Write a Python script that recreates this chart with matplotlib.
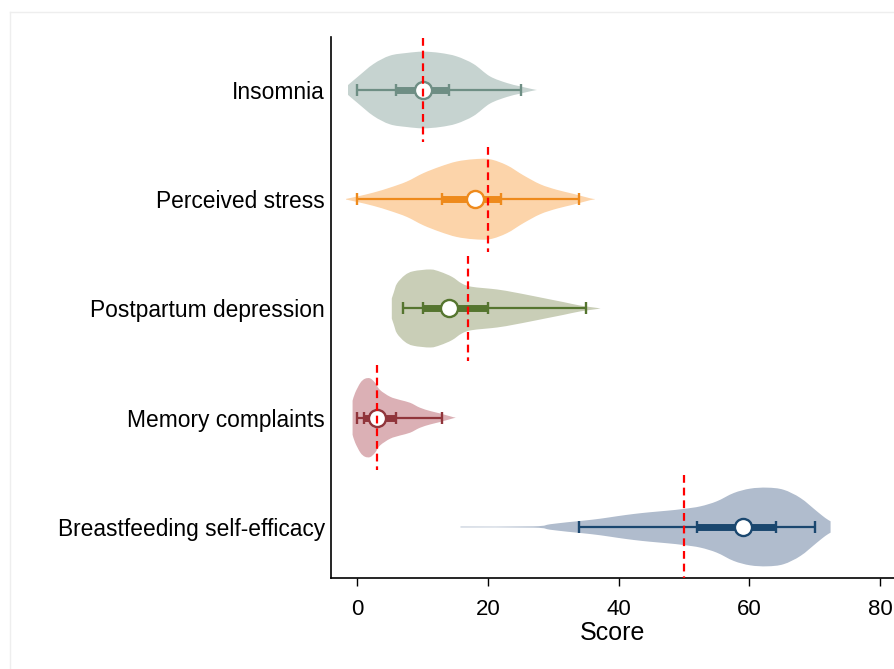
import matplotlib
matplotlib.use("Agg")
import matplotlib.pyplot as plt
from matplotlib.lines import Line2D
from matplotlib.path import Path
from matplotlib.patches import PathPatch
import numpy as np

plt.rcParams['font.family'] = ['Liberation Sans', 'DejaVu Sans']

# ---------------- data ----------------
categories = ["Insomnia", "Perceived stress", "Postpartum depression",
              "Memory complaints", "Breastfeeding self-efficacy"]
whisker_lo = [0, 0, 7, 0, 34]
q1 = [6, 13, 10, 1, 52]
median = [10, 18, 14, 3, 59]
q3 = [14, 22, 20, 6, 64]
whisker_hi = [25, 34, 35, 13, 70]
reference = [10, 20, 17, 3, 50]

# violin outlines: score values and half-widths
insomnia_x = [-1.4, 0, 2.5, 5, 7.6, 10.1, 12.7, 15.2, 17.8, 20.3, 22.9, 24.9, 26.7, 27.5]
insomnia_w = [0.045, 0.116, 0.238, 0.314, 0.339, 0.351, 0.339, 0.308, 0.238, 0.125, 0.064, 0.034, 0.009, 0.0]
stress_x = [-1.7, 0, 2.5, 5.05, 7.6, 10.1, 12.7, 15.2, 17.8, 20.3, 22.9, 25.4, 28, 30.5, 33.1, 35.6, 36.3]
stress_w = [0.003, 0.025, 0.061, 0.107, 0.162, 0.238, 0.299, 0.345, 0.366, 0.366, 0.311, 0.220, 0.137, 0.087, 0.049, 0.009, 0.003]
depress_x = [5.3, 5.6, 6.1, 7.3, 8.6, 11.2, 12.7, 14.5, 16.0, 17.5, 21.4, 23.9, 26.5, 29, 31.6, 34.1, 36.7, 37.2]
depress_w = [0.092, 0.146, 0.229, 0.305, 0.341, 0.357, 0.336, 0.290, 0.229, 0.199, 0.174, 0.149, 0.119, 0.089, 0.058, 0.027, 0.005, 0.0]
memory_x = [-0.7, -0.3, 0.5, 1.2, 2.0, 2.75, 3.5, 5.05, 6.6, 8.1, 9.6, 11.2, 12.7, 14.7, 15.2]
memory_w = [0.156, 0.229, 0.320, 0.357, 0.360, 0.320, 0.254, 0.192, 0.162, 0.137, 0.092, 0.061, 0.039, 0.005, 0.0]
breast_x = [15.8, 27, 29.5, 32.1, 34.6, 37.2, 39.7, 42.3, 44.8, 47.4, 49.9, 52.5, 55, 57.6, 60.1, 62.7, 65.2, 67.8, 70.3, 71.6, 72.4]
breast_w = [0.004, 0.006, 0.025, 0.043, 0.058, 0.076, 0.098, 0.119, 0.135, 0.149, 0.165, 0.189, 0.235, 0.311, 0.351, 0.360, 0.341, 0.265, 0.144, 0.082, 0.052]

violin_x = [insomnia_x, stress_x, depress_x, memory_x, breast_x]
violin_w = [insomnia_w, stress_w, depress_w, memory_w, breast_w]

line_colors = ['#6e8e84', '#ee8a1c', '#55752f', '#90353b', '#1a476f']
fill_colors = ['#c6d3d0', '#fcd4aa', '#c9ceb7', '#dbb0b5', '#b0bccd']


def smooth_segments(pts):
    """Catmull-Rom curve through the given points, as cubic Bezier pieces."""
    pts = np.asarray(pts, float)
    n = len(pts)
    verts, codes = [], []
    for k in range(n - 1):
        p0 = pts[max(k - 1, 0)]
        p1 = pts[k]
        p2 = pts[k + 1]
        p3 = pts[min(k + 2, n - 1)]
        c1 = p1 + (p2 - p0) / 6.0
        c2 = p2 - (p3 - p1) / 6.0
        verts += [tuple(c1), tuple(c2), tuple(p2)]
        codes += [Path.CURVE4] * 3
    return verts, codes


def violin_patch(xs, ws, p, color):
    xs = np.asarray(xs, float)
    ws = np.asarray(ws, float)
    top = np.column_stack([xs, p - ws])
    bot = np.column_stack([xs[::-1], p + ws[::-1]])
    verts = [tuple(top[0])]
    codes = [Path.MOVETO]
    v, c = smooth_segments(top)
    verts += v
    codes += c
    verts.append(tuple(bot[0]))
    codes.append(Path.LINETO)
    v, c = smooth_segments(bot)
    verts += v
    codes += c
    verts.append(tuple(top[0]))
    codes.append(Path.CLOSEPOLY)
    return PathPatch(Path(verts, codes), facecolor=color, edgecolor='none', lw=0, zorder=1)


# ---------------- figure ----------------
W, H = 894, 669
fig = plt.figure(figsize=(W / 100, H / 100), dpi=100)
fig.patch.set_facecolor('white')
ax = fig.add_axes([331 / W, 1 - 578 / H, 1 - 331 / W, (578 - 37) / H])

# faint frame lines of the original export
fig.add_artist(Line2D([10 / W, 1], [1 - 12 / H, 1 - 12 / H], transform=fig.transFigure,
                      color='#eeeeee', lw=1))
fig.add_artist(Line2D([10 / W, 10 / W], [0, 1 - 12 / H], transform=fig.transFigure,
                      color='#eeeeee', lw=1))

pos = np.arange(len(categories))
for i, p in enumerate(pos):
    ax.add_patch(violin_patch(violin_x[i], violin_w[i], p, fill_colors[i]))
    c = line_colors[i]
    ax.plot([whisker_lo[i], whisker_hi[i]], [p, p], color=c, lw=1.6,
            solid_capstyle='butt', zorder=2)
    ax.plot([q1[i], q3[i]], [p, p], color=c, lw=5, solid_capstyle='butt', zorder=3)
    ax.plot([whisker_lo[i], q1[i], q3[i], whisker_hi[i]], [p] * 4, ls='none',
            marker='|', markersize=8.5, mew=1.7, color=c, zorder=4)
    ax.plot([median[i]], [p], ls='none', marker='o', markersize=12.3,
            markerfacecolor='white', markeredgecolor=c, mew=1.7, zorder=5)
    ax.plot([reference[i], reference[i]], [p - 0.48, p + 0.48], color='#ff0000',
            lw=1.6, ls=(0, (3.5, 2.2)), zorder=6)

ax.set_xlim(-4, 82.1)
ax.set_ylim(4.467, -0.485)
ax.set_yticks(pos)
ax.set_yticklabels(categories, fontsize=16.4)
ax.set_xticks([0, 20, 40, 60, 80])
ax.set_xticklabels(['0', '20', '40', '60', '80'], fontsize=16)
ax.tick_params(axis='y', length=0, pad=4.5)
ax.tick_params(axis='x', length=6, width=1, pad=9, colors='black')
ax.set_xlabel('Score', fontsize=18, labelpad=1)

for s in ['top', 'right']:
    ax.spines[s].set_visible(False)
for s in ['left', 'bottom']:
    ax.spines[s].set_linewidth(1.2)
    ax.spines[s].set_color('black')

fig.savefig('out.png', dpi=100)
